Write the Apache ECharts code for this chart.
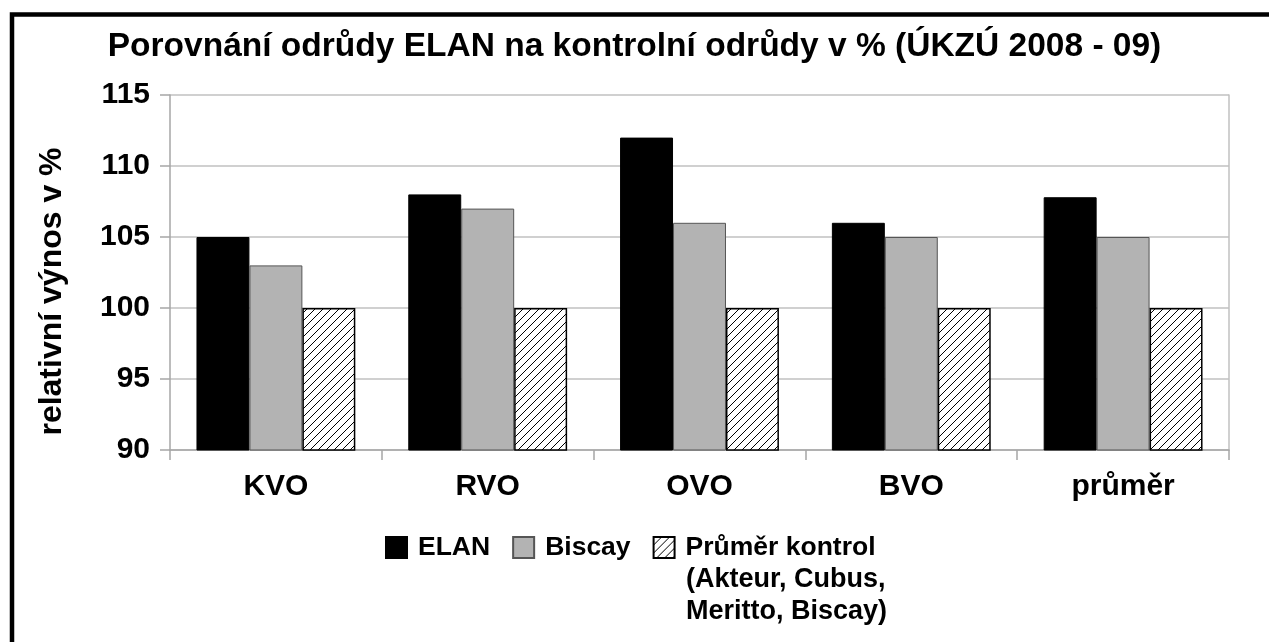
<!DOCTYPE html>
<html>
<head>
<meta charset="utf-8">
<script src="https://cdn.jsdelivr.net/npm/echarts@6/dist/echarts.min.js"></script>
<style>
html, body { margin: 0; padding: 0; background: #fff; }
#chart { width: 1269px; height: 642px; }
</style>
</head>
<body>
<div id="chart"></div>
<script>
var categories = ['KVO', 'RVO', 'OVO', 'BVO', 'průměr'];
var elanValues = [105, 108, 112, 106, 107.8];
var biscayValues = [103, 107, 106, 105, 105];
var kontrolValues = [100, 100, 100, 100, 100];
var seriesNames = ['ELAN', 'Biscay', 'Průměr kontrol (Akteur, Cubus, Meritto, Biscay)'];

var font = '"Liberation Sans", Arial, sans-serif';

// diagonal hatch for the control average
var hatch = document.createElement('canvas');
hatch.width = 8;
hatch.height = 8;
var ctx = hatch.getContext('2d');
ctx.fillStyle = '#fff';
ctx.fillRect(0, 0, 8, 8);
ctx.strokeStyle = '#000';
ctx.lineWidth = 1;
ctx.beginPath();
ctx.moveTo(0, 8); ctx.lineTo(8, 0);
ctx.moveTo(-1, 1); ctx.lineTo(1, -1);
ctx.moveTo(7, 9); ctx.lineTo(9, 7);
ctx.stroke();

var chart = echarts.init(document.getElementById('chart'));

var option = {
	backgroundColor : '#fff',
	animation : false,
	title : {
		text : 'Porovnání odrůdy ELAN na kontrolní odrůdy v % (ÚKZÚ 2008 - 09)',
		left : 'center',
		top : 25,
		textStyle : {
			fontFamily : font,
			fontWeight : 'bold',
			fontSize : 33.5,
			color : '#000'
		}
	},
	grid : {
		left : 170,
		right : 40,
		top : 95,
		bottom : 192
	},
	legend : {
		left : 385,
		top : 534,
		padding : 0,
		icon : 'rect',
		itemWidth : 21,
		itemHeight : 21,
		itemGap : 22,
		data : seriesNames,
		formatter : function(name) {
			return name.indexOf('Průměr') === 0 ? 'Průměr kontrol' : name;
		},
		textStyle : {
			fontFamily : font,
			fontWeight : 'bold',
			fontSize : 26.5,
			color : '#000',
			padding : [0, 0, 0, 6]
		}
	},
	graphic : [ {
		type : 'rect',
		shape : { x : 12, y : 14.5, width : 1400, height : 800 },
		style : { fill : null, stroke : '#000', lineWidth : 4.5 },
		silent : true
	}, {
		type : 'text',
		left : 686,
		top : 564,
		style : {
			text : '(Akteur, Cubus,\nMeritto, Biscay)',
			font : 'bold 27px ' + font,
			fill : '#000',
			lineHeight : 32
		}
	} ],
	xAxis : {
		type : 'category',
		data : categories,
		axisLine : { lineStyle : { color : '#a6a6a6', width : 1.5 } },
		axisTick : { show : true, length : 10, lineStyle : { color : '#a6a6a6', width : 1.5 } },
		axisLabel : {
			margin : 22,
			fontFamily : font,
			fontWeight : 'bold',
			fontSize : 30,
			color : '#000'
		}
	},
	yAxis : [ {
		type : 'value',
		min : 90,
		max : 115,
		interval : 5,
		name : 'relativní výnos v %',
		nameLocation : 'middle',
		nameGap : 102,
		nameTextStyle : {
			fontFamily : font,
			fontWeight : 'bold',
			fontSize : 32,
			color : '#000',
			padding : [0, 38, 0, 0]
		},
		axisLine : { show : true, lineStyle : { color : '#a6a6a6', width : 1.5 } },
		axisTick : { show : true, length : 10, lineStyle : { color : '#a6a6a6', width : 1.5 } },
		splitLine : { lineStyle : { color : '#c0c0c0', width : 1.5 } },
		axisLabel : {
			margin : 20,
			fontFamily : font,
			fontWeight : 'bold',
			fontSize : 30,
			color : '#000'
		}
	}, {
		type : 'value',
		min : 90,
		max : 115,
		interval : 5,
		position : 'right',
		axisLine : { show : true, lineStyle : { color : '#c0c0c0', width : 1.5 } },
		axisTick : { show : false },
		axisLabel : { show : false },
		splitLine : { show : false }
	} ],
	series : [ {
		name : seriesNames[0],
		type : 'bar',
		barCategoryGap : '25%',
		barGap : '0%',
		itemStyle : { color : '#000', borderColor : '#000', borderWidth : 1 },
		data : elanValues
	}, {
		name : seriesNames[1],
		type : 'bar',
		barGap : '0%',
		itemStyle : { color : '#b3b3b3', borderColor : '#555', borderWidth : 1 },
		data : biscayValues
	}, {
		name : seriesNames[2],
		type : 'bar',
		barGap : '0%',
		itemStyle : { color : { image : hatch, repeat : 'repeat' }, borderColor : '#000', borderWidth : 1.5 },
		data : kontrolValues
	} ]
};

chart.setOption(option);
</script>
</body>
</html>
